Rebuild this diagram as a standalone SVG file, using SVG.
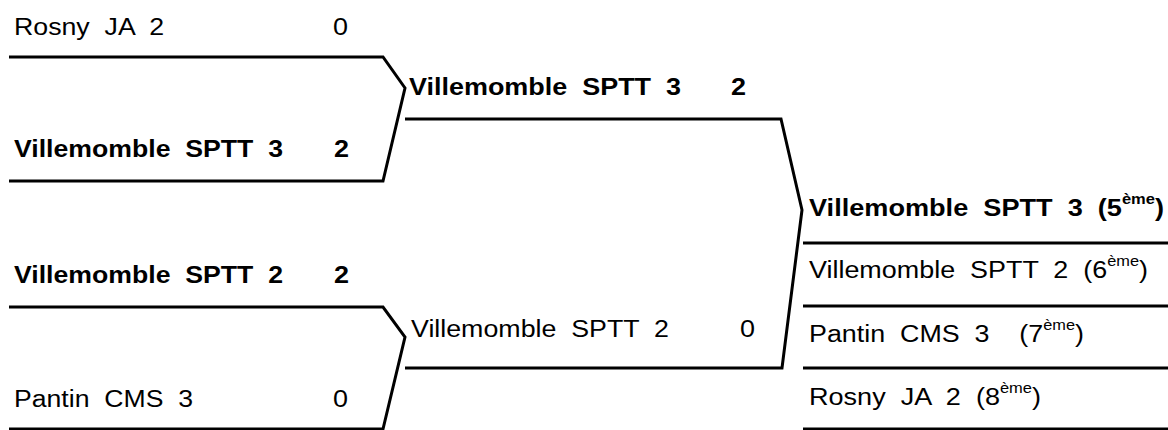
<svg xmlns="http://www.w3.org/2000/svg" width="1168" height="430" viewBox="0 0 1168 430" xml:space="preserve">
<style>
text{font-family:"Liberation Sans",Arial,sans-serif;font-size:23px;fill:#000;white-space:pre}
.b{font-weight:bold}
.sup{font-size:14px}
.ln{fill:none;stroke:#000;stroke-width:3;stroke-linejoin:miter}
</style>
<rect width="1168" height="430" fill="#fff"/>
<g id="connectors">
<path class="ln" d="M9,57 H383 L405,88 L383,181 H9"/>
<path class="ln" d="M9,307 H383 L405,337 L383,429 H9"/>
<path class="ln" d="M405,119 H781 L802,210 L782,368 H405"/>
<path class="ln" d="M803,243 H1168 M803,306 H1168 M803,368 H1168 M803,429 H1168"/>
</g>
<g id="r1-rosny">
<text x="14" y="35" textLength="150" lengthAdjust="spacingAndGlyphs">Rosny  JA  2</text>
<text x="333" y="35" textLength="15" lengthAdjust="spacingAndGlyphs">0</text>
</g>
<g id="r1-villemomble3">
<text class="b" x="14" y="157" textLength="269" lengthAdjust="spacingAndGlyphs">Villemomble  SPTT  3</text>
<text class="b" x="334" y="157" textLength="15" lengthAdjust="spacingAndGlyphs">2</text>
</g>
<g id="r1-villemomble2">
<text class="b" x="14" y="283" textLength="269" lengthAdjust="spacingAndGlyphs">Villemomble  SPTT  2</text>
<text class="b" x="334" y="283" textLength="15" lengthAdjust="spacingAndGlyphs">2</text>
</g>
<g id="r1-pantin">
<text x="14" y="407" textLength="179" lengthAdjust="spacingAndGlyphs">Pantin  CMS  3</text>
<text x="333" y="407" textLength="15" lengthAdjust="spacingAndGlyphs">0</text>
</g>
<g id="r2-winner">
<text class="b" x="409" y="95" textLength="272" lengthAdjust="spacingAndGlyphs">Villemomble  SPTT  3</text>
<text class="b" x="731" y="95" textLength="15" lengthAdjust="spacingAndGlyphs">2</text>
</g>
<g id="r2-loser">
<text x="411" y="337" textLength="258" lengthAdjust="spacingAndGlyphs">Villemomble  SPTT  2</text>
<text x="740" y="337" textLength="15" lengthAdjust="spacingAndGlyphs">0</text>
</g>
<g id="place5">
<text class="b" x="809" y="216" textLength="355" lengthAdjust="spacingAndGlyphs">Villemomble  SPTT  3  (5<tspan class="sup" dy="-12">ème</tspan><tspan dy="12">)</tspan></text>
</g>
<g id="place6">
<text x="809" y="278" textLength="339" lengthAdjust="spacingAndGlyphs">Villemomble  SPTT  2  (6<tspan class="sup" dy="-12">ème</tspan><tspan dy="12">)</tspan></text>
</g>
<g id="place7">
<text x="809" y="342" textLength="275" lengthAdjust="spacingAndGlyphs">Pantin  CMS  3    (7<tspan class="sup" dy="-12">ème</tspan><tspan dy="12">)</tspan></text>
</g>
<g id="place8">
<text x="809" y="405" textLength="232" lengthAdjust="spacingAndGlyphs">Rosny  JA  2  (8<tspan class="sup" dy="-12">ème</tspan><tspan dy="12">)</tspan></text>
</g>
</svg>
